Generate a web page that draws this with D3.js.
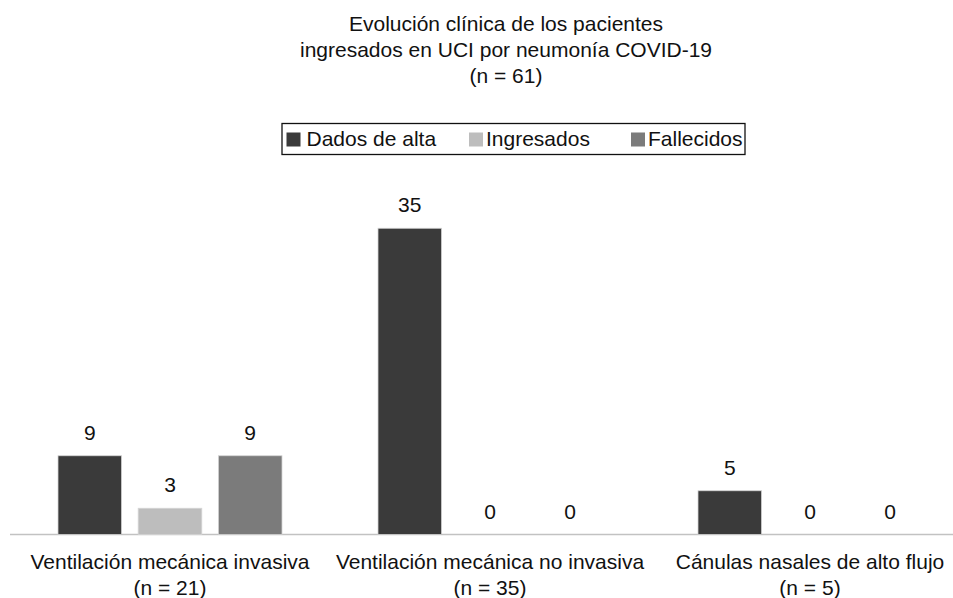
<!DOCTYPE html>
<html>
<head>
<meta charset="utf-8">
<script src="https://cdn.jsdelivr.net/npm/d3@7"></script>
<style>
  html, body { margin: 0; padding: 0; background: #fff; }
  svg { display: block; font-family: "Liberation Sans", Arial, Helvetica, sans-serif; }
</style>
</head>
<body>
<svg id="chart" width="953" height="598"></svg>
<script>
const titleLines = ["Evolución clínica de los pacientes", "ingresados en UCI por neumonía COVID-19", "(n = 61)"];
const categories = ["Ventilación mecánica invasiva", "Ventilación mecánica no invasiva", "Cánulas nasales de alto flujo"];
const categorySubLabels = ["(n = 21)", "(n = 35)", "(n = 5)"];
const seriesNames = ["Dados de alta", "Ingresados", "Fallecidos"];
const dadosDeAlta = [9, 35, 5];
const ingresados = [3, 0, 0];
const fallecidos = [9, 0, 0];
const seriesColors = ["#3a3a3a", "#bdbdbd", "#7b7b7b"];

const seriesValues = [dadosDeAlta, ingresados, fallecidos];
const rows = categories.map((c, i) => ({
  cat: c, sub: categorySubLabels[i],
  vals: seriesNames.map((s, j) => ({ series: s, value: seriesValues[j][i], color: seriesColors[j] }))
}));

const svg = d3.select("#chart");
const FONT = 21;

const x0 = d3.scaleBand().domain(categories).range([10, 970]).paddingInner(0).paddingOuter(0);
const x1 = d3.scaleBand().domain(seriesNames).range([48, 272]).paddingInner(0.207).paddingOuter(0);
const y = d3.scaleLinear().domain([0, 40]).range([534.5, 184.5]);

// Title
const title = svg.append("text").attr("x", 506).attr("text-anchor", "middle")
  .style("font-size", FONT + "px").attr("fill", "#111");
titleLines.forEach((t, i) => {
  title.append("tspan").attr("x", 506).attr("y", 30.5 + i * 26).text(t);
});

// Legend
const legend = svg.append("g");
const legendBox = legend.append("rect")
  .attr("x", 282).attr("y", 123.5).attr("width", 463).attr("height", 31)
  .attr("fill", "#fff").attr("stroke", "#111").attr("stroke-width", 1.3);
const itemX = [286.5, 469, 631];
seriesNames.forEach((s, j) => {
  legend.append("rect").attr("x", itemX[j]).attr("y", 132.5).attr("width", 14).attr("height", 14)
    .attr("fill", seriesColors[j]);
  legend.append("text").attr("x", itemX[j] + (j === 0 ? 20 : 17)).attr("y", 145.5)
    .style("font-size", FONT + "px").attr("fill", "#111").text(s);
});

// Baseline
svg.append("line").attr("x1", 10).attr("x2", 953).attr("y1", y(0)).attr("y2", y(0))
  .attr("stroke", "#c2c2c2").attr("stroke-width", 1.5);

// Bars
const groups = svg.append("g").selectAll("g").data(rows).join("g")
  .attr("transform", d => `translate(${x0(d.cat)},0)`);

groups.selectAll("rect").data(d => d.vals).join("rect")
  .attr("x", d => x1(d.series))
  .attr("y", d => y(d.value))
  .attr("width", x1.bandwidth())
  .attr("height", d => y(0) - y(d.value))
  .attr("fill", d => d.color)
  .attr("stroke", "#d4d4d4").attr("stroke-width", d => d.value > 0 ? 0.8 : 0);

groups.selectAll("text.val").data(d => d.vals).join("text").attr("class", "val")
  .attr("x", d => x1(d.series) + x1.bandwidth() / 2)
  .attr("y", d => y(d.value) - 16)
  .attr("text-anchor", "middle").style("font-size", FONT + "px").attr("fill", "#111")
  .text(d => d.value);

// Category labels
const catLabels = svg.append("g").selectAll("text").data(rows).join("text")
  .attr("text-anchor", "middle").style("font-size", FONT + "px").attr("fill", "#111");
catLabels.append("tspan").attr("x", d => x0(d.cat) + x0.bandwidth() / 2).attr("y", 569).text(d => d.cat);
catLabels.append("tspan").attr("x", d => x0(d.cat) + x0.bandwidth() / 2).attr("y", 595).text(d => d.sub);
</script>
</body>
</html>
